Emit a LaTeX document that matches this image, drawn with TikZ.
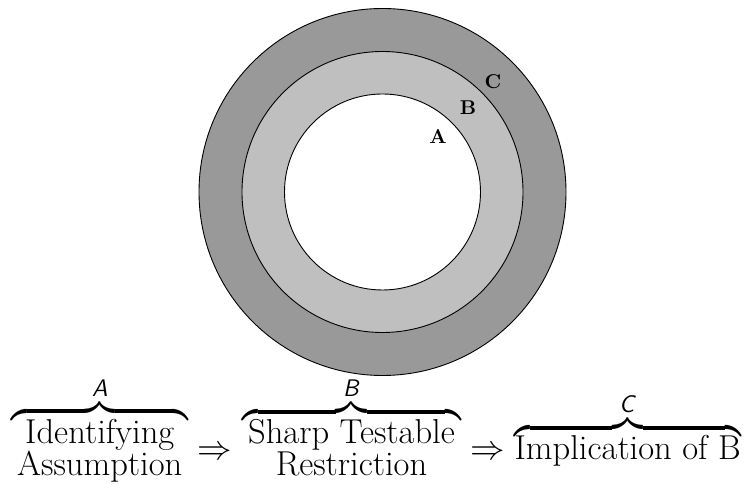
\documentclass[tikz,border=0pt]{standalone}
\usepackage{amsmath}
\begin{document}
\begin{tikzpicture}[x=0.5pt,y=-0.5pt,
  ring/.style={draw=black,line width=0.45pt},
  lbl/.style={font=\fontsize{10}{12}\selectfont\bfseries,inner sep=0pt}]
\useasboundingbox (0,0) rectangle (745,485);
\path[ring,fill=black!40] (382.5,192) circle[radius=183.5];
\path[ring,fill=black!25] (382.5,192) circle[radius=140.5];
\path[ring,fill=white] (382.5,192) circle[radius=98];
\node[lbl] (la) at (438,137) {A};
\node[lbl] (lb) at (468,108) {B};
\node[lbl] (lc) at (493,82) {C};
\node[inner sep=0pt,anchor=base,font=\fontsize{17.28}{13}\selectfont] (chain) at (376,460)
 {\setlength{\tabcolsep}{3pt}$\overbrace{\text{\begin{tabular}{c}Identifying\\Assumption\end{tabular}}}^{\textsf{\textit{A}}}
 \Rightarrow
 \overbrace{\text{\begin{tabular}{c}Sharp Testable\\Restriction\end{tabular}}}^{\textsf{\textit{B}}}
 \Rightarrow
 \overbrace{\text{Implication of B}}^{\textsf{\textit{C}}}$};
\end{tikzpicture}
\end{document}
